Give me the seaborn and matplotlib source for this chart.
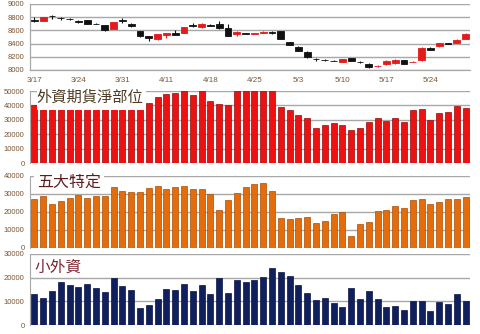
import numpy as np
import pandas as pd
import matplotlib
matplotlib.use("Agg")
import matplotlib.pyplot as plt
from matplotlib.patches import Rectangle
import seaborn as sns

# ---- data -------------------------------------------------------------
date_labels = ["3/17", "3/24", "3/31", "4/11", "4/18", "4/25", "5/3", "5/10", "5/17", "5/24"]

# daily index candles
opens = [8765, 8750, 8818, 8795, 8772, 8735, 8750, 8702, 8680, 8625,
         8752, 8700, 8590, 8515, 8465, 8525, 8555, 8565, 8677, 8645,
         8677, 8695, 8630, 8545, 8557, 8552, 8560, 8572, 8585, 8420,
         8355, 8280, 8172, 8152, 8142, 8125, 8180, 8122, 8085, 8058,
         8090, 8110, 8150, 8122, 8150, 8330, 8360, 8402, 8415, 8475]
highs = [8810, 8810, 8840, 8810, 8790, 8760, 8755, 8710, 8685, 8725,
         8790, 8705, 8595, 8520, 8550, 8560, 8600, 8650, 8705, 8705,
         8690, 8735, 8700, 8585, 8565, 8565, 8590, 8590, 8590, 8425,
         8360, 8285, 8185, 8160, 8150, 8165, 8185, 8130, 8110, 8070,
         8145, 8160, 8155, 8135, 8345, 8345, 8410, 8410, 8465, 8560]
lows = [8730, 8745, 8780, 8765, 8755, 8710, 8695, 8690, 8590, 8620,
        8710, 8650, 8505, 8440, 8460, 8490, 8525, 8560, 8650, 8630,
        8665, 8620, 8510, 8510, 8540, 8545, 8555, 8540, 8465, 8380,
        8290, 8175, 8140, 8130, 8130, 8115, 8135, 8110, 8025, 8045,
        8070, 8095, 8085, 8115, 8140, 8300, 8355, 8390, 8410, 8470]
closes = [8740, 8805, 8815, 8790, 8768, 8730, 8700, 8698, 8605, 8720,
          8748, 8660, 8515, 8480, 8545, 8555, 8530, 8645, 8673, 8700,
          8673, 8635, 8520, 8580, 8553, 8558, 8575, 8568, 8470, 8385,
          8295, 8190, 8168, 8148, 8138, 8160, 8140, 8118, 8050, 8064,
          8140, 8155, 8090, 8128, 8340, 8305, 8405, 8398, 8460, 8540]

# foreign futures net position
foreign_net = [40500, 42000, 43000, 42500, 41500, 42000, 43000, 42000, 41000, 41500,
               42500, 41000, 40500, 42000, 45500, 48000, 48500, 50000, 47000, 50000,
               43000, 41000, 40500, 50000, 50000, 50000, 50000, 50000, 38800, 36500,
               33500, 31000, 24400, 26300, 27900, 26700, 22600, 24400, 28400, 31400,
               29100, 31400, 28400, 37000, 37700, 30200, 34700, 35600, 39500, 38100]

# five major specific traders
top5 = [27500, 28800, 24600, 26200, 27900, 29700, 27900, 29000, 29000, 33800,
        31900, 31200, 31200, 33600, 34700, 32800, 34100, 34300, 32800, 32700,
        29900, 21100, 26600, 30600, 33800, 35600, 36300, 31400, 16900, 16000,
        16500, 17200, 13800, 15000, 18700, 19800, 6800, 13400, 14300, 20600,
        21300, 23100, 22200, 26600, 27500, 24600, 25300, 27300, 27000, 28300]

# small foreign traders
small_foreign = [13200, 11500, 14400, 18200, 17000, 16000, 17400, 15600, 13900, 19800,
                 16400, 14900, 7200, 8400, 10800, 15100, 14900, 17300, 14200, 17000,
                 12900, 19900, 13600, 19200, 18000, 19200, 20300, 24000, 22300, 20800,
                 17000, 13500, 10500, 11400, 9300, 7600, 15600, 10800, 14200, 11100,
                 7700, 8000, 6200, 10200, 10200, 5800, 9700, 9000, 13000, 10200]

titles = ["外資期貨淨部位", "五大特定", "小外資"]

# ---- style ------------------------------------------------------------
sns.set_style("white")
plt.rcParams["font.family"] = ["Liberation Sans", "DejaVu Sans"]
cjk = ["Noto Sans CJK TC", "DejaVu Sans"]

W, H = 480, 334
fig = plt.figure(figsize=(W / 100, H / 100), dpi=100)

def fig_axes(top_px, bottom_px, left_px=30, right_px=470):
    return fig.add_axes([left_px / W, 1 - bottom_px / H,
                         (right_px - left_px) / W, (bottom_px - top_px) / H])

tick_color = "#7a5533"
grid_color = "#a8a8a8"
n = len(closes)
x = np.arange(n)

def style_axis(ax, ymax, step):
    ax.set_xlim(-0.5, n - 0.5)
    ax.set_ylim(0, ymax)
    ax.set_yticks(np.arange(0, ymax + 1, step))
    ax.yaxis.grid(True, color=grid_color, lw=1.0)
    ax.xaxis.grid(False)
    ax.set_axisbelow(True)
    for s in ["top", "right", "bottom"]:
        ax.spines[s].set_visible(False)
    ax.spines["left"].set_color(grid_color)
    ax.spines["left"].set_linewidth(0.8)
    ax.tick_params(axis="y", labelsize=5.5, colors=grid_color, labelcolor=tick_color,
                   length=2, width=0.8, direction="out", pad=2)
    ax.set_xticks([])
    ax.set_xlabel("")
    ax.set_ylabel("")

# ---- candlestick panel -----------------------------------------------
ax1 = fig_axes(4, 70)
up_color, down_color = "#e31b1b", "#111111"
o, h, l, c = map(np.asarray, (opens, highs, lows, closes))
colors = np.where(c >= o, up_color, down_color)
ax1.vlines(x, l, h, colors=colors, lw=0.8, zorder=2)
body_low = np.minimum(o, c)
body_h = np.maximum(np.abs(c - o), 3)
ax1.bar(x, body_h, bottom=body_low, width=0.76, color=colors,
        edgecolor=colors, linewidth=0.6, zorder=3)
ax1.set_xlim(-0.5, n - 0.5)
ax1.set_ylim(8000, 9000)
ax1.set_yticks(np.arange(8000, 9001, 200))
ax1.yaxis.grid(True, color=grid_color, lw=1.0)
ax1.set_axisbelow(True)
for s in ["top", "right"]:
    ax1.spines[s].set_visible(False)
for s in ["left", "bottom"]:
    ax1.spines[s].set_color(grid_color)
    ax1.spines[s].set_linewidth(0.9)
ax1.set_xticks(np.arange(0, n, 5))
ax1.set_xticklabels(date_labels)
ax1.set_xticks(np.arange(-0.5, n, 1), minor=True)
ax1.tick_params(axis="x", which="major", length=0, labelsize=5.8,
                labelcolor=tick_color, pad=5)
ax1.tick_params(axis="x", which="minor", length=2, width=0.8, colors=grid_color)
ax1.tick_params(axis="y", labelsize=5.5, colors=grid_color, labelcolor=tick_color,
                length=2, width=0.8, pad=2)

# ---- bar panels ------------------------------------------------------
panels = [
    (91, 163, foreign_net, "#ee1111", "#8f0d0d", 50000),
    (176, 248, top5, "#e46c0a", "#a84f08", 40000),
    (254, 325, small_foreign, "#10205e", "#0a1440", 30000),
]
for top_px, bottom_px, vals, col, edge, ymax in panels:
    ax = fig_axes(top_px, bottom_px)
    df = pd.DataFrame({"day": x, "value": vals})
    sns.barplot(data=df, x="day", y="value", ax=ax, color=col, saturation=1,
                width=0.7, edgecolor=edge, linewidth=0.5, errorbar=None)
    style_axis(ax, ymax, 10000)

# ---- panel titles on white boxes --------------------------------------
title_boxes = [
    (37, 87, 146, 110, 36, 97.5, 11, "#4a3a22"),
    (34, 173, 104, 192, 37, 183.5, 11.5, "#5c1f1f"),
    (34, 257, 86, 276, 35, 267, 11.3, "#7b2331"),
]
for (bx0, by0, bx1, by1, tx, ty, fs, tc), text in zip(title_boxes, titles):
    fig.add_artist(Rectangle((bx0 / W, 1 - by1 / H), (bx1 - bx0) / W, (by1 - by0) / H,
                             transform=fig.transFigure, facecolor="white",
                             edgecolor="none", zorder=5))
    fig.text(tx / W, 1 - ty / H, text, fontsize=fs, color=tc, family=cjk,
             ha="left", va="center", zorder=6)

fig.savefig("out.png", dpi=100)
